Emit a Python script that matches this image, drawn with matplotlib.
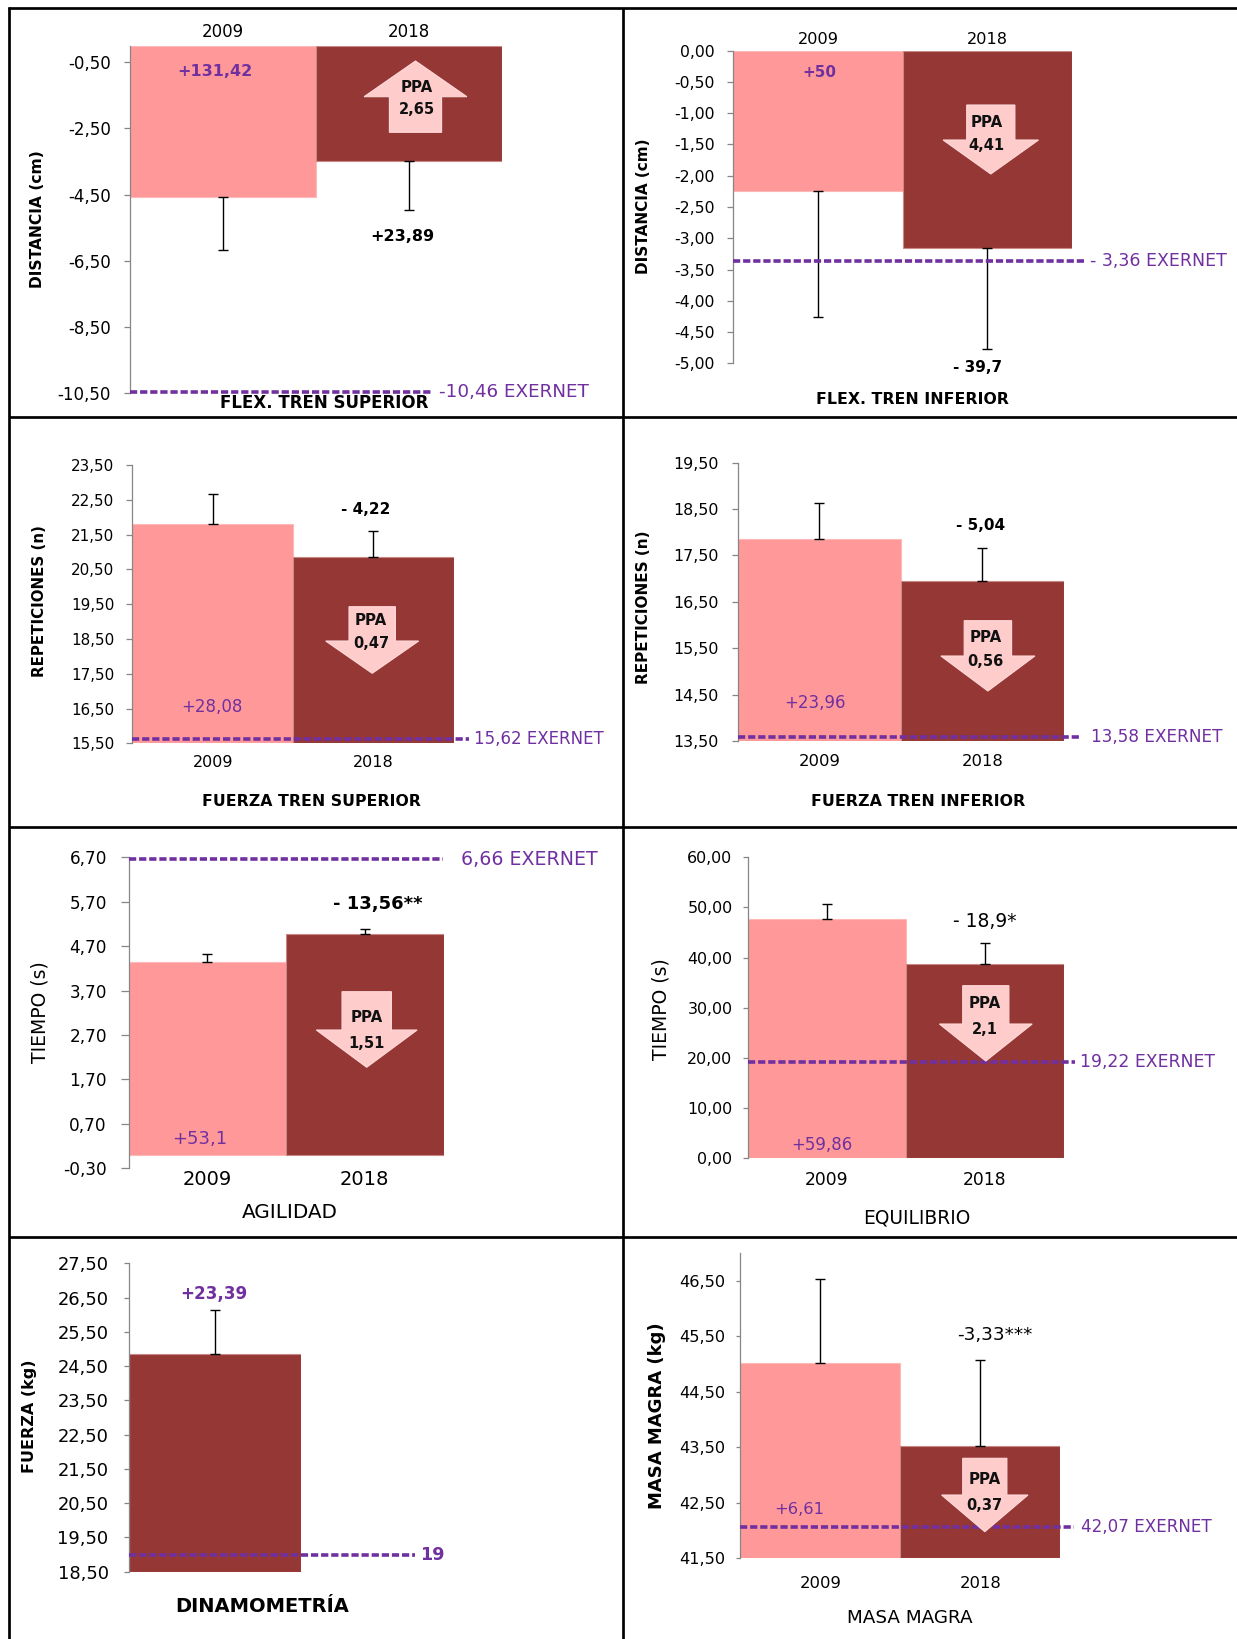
import numpy as np
import matplotlib
matplotlib.use("Agg")
import matplotlib.pyplot as plt
from matplotlib.patches import Polygon

W, H = 1237, 1639
plt.rcParams["font.family"] = ["DejaVu Sans"]

ROSA = "#FF9999"
GRANATE = "#953735"
FLECHA = "#FFCCCC"
MORADO = "#7030A0"

anios = ["2009", "2018"]

# flexibilidad tren superior (cm)
flex_sup_media = [-4.56, -3.49]
flex_sup_de = [1.60, 1.47]
flex_sup_exernet = -10.46
flex_sup_cambio = ["+131,42", "+23,89"]
flex_sup_ppa = "2,65"

# flexibilidad tren inferior (cm)
flex_inf_media = [-2.25, -3.15]
flex_inf_de = [2.01, 1.62]
flex_inf_exernet = -3.36
flex_inf_cambio = ["+50", "- 39,7"]
flex_inf_ppa = "4,41"

# fuerza tren superior (repeticiones)
fza_sup_media = [21.80, 20.86]
fza_sup_de = [0.86, 0.75]
fza_sup_exernet = 15.62
fza_sup_cambio = ["+28,08", "- 4,22"]
fza_sup_ppa = "0,47"

# fuerza tren inferior (repeticiones)
fza_inf_media = [17.85, 16.95]
fza_inf_de = [0.79, 0.72]
fza_inf_exernet = 13.58
fza_inf_cambio = ["+23,96", "- 5,04"]
fza_inf_ppa = "0,56"

# agilidad (s)
agil_media = [4.35, 4.97]
agil_de = [0.17, 0.11]
agil_exernet = 6.66
agil_cambio = ["+53,1", "- 13,56**"]
agil_ppa = "1,51"

# equilibrio (s)
equi_media = [47.70, 38.73]
equi_de = [2.93, 4.12]
equi_exernet = 19.22
equi_cambio = ["+59,86", "- 18,9*"]
equi_ppa = "2,1"

# dinamometria (kg), solo 2018
dina_media = [24.85]
dina_de = [1.29]
dina_exernet = 19
dina_cambio = ["+23,39"]

# masa magra (kg)
magra_media = [45.02, 43.52]
magra_de = [1.52, 1.55]
magra_exernet = 42.07
magra_cambio = ["+6,61", "-3,33***"]
magra_ppa = "0,37"


fig = plt.figure(figsize=(W / 100, H / 100), dpi=100)
fig.patch.set_facecolor("white")


def coma(v):
    return f"{round(v, 2) + 0.0:.2f}".replace(".", ",")


def px_axes(x0, x1, y_top, y_bot):
    return fig.add_axes([x0 / W, 1 - y_bot / H, (x1 - x0) / W, (y_bot - y_top) / H])


def panel(box, medias, de, ylim, paso, base, ref, ref_txt, ref_fin, ref_ini,
          tick_fs, tick_pad, tick_len=4.3, cats=True, cat_top=False, cat_pad=8,
          cat_fs=12, colores=(ROSA, GRANATE), ref_fs=12.5, ref_w="normal"):
    x0, x1, yt, yb = box
    ax = px_axes(x0, x1, yt, yb)
    n = len(medias)
    xs = np.arange(n) + 0.5
    alturas = [m - base for m in medias]
    bordes = ["#FFB8B8" if c == ROSA else "#C98886" for c in colores]
    ax.bar(xs, alturas, width=1.0, bottom=base, color=colores[:n],
           edgecolor=bordes[:n], linewidth=0.8, zorder=2)
    for x, m, e in zip(xs, medias, de):
        yerr = [[e], [0]] if m < base else [[0], [e]]
        ax.errorbar(x, m, yerr=yerr, fmt="none", ecolor="black", elinewidth=1.0,
                    capsize=3.3, capthick=1.0, zorder=3)
    ax.set_xlim(0, n)
    ax.set_ylim(*ylim)
    ticks = np.arange(ylim[0], ylim[1] + 1e-6, paso)
    ax.set_yticks(ticks, [coma(t) for t in ticks])
    for s in ["top", "right", "bottom"]:
        ax.spines[s].set_visible(False)
    ax.spines["left"].set_color("#868686")
    ax.spines["left"].set_linewidth(0.9)
    ax.tick_params(axis="y", direction="out", length=tick_len, width=0.9,
                   color="#868686", pad=tick_pad, labelsize=tick_fs,
                   labelcolor="black")
    if cats:
        if cat_top:
            ax.xaxis.tick_top()
        ax.set_xticks(xs, anios[:n])
        ax.tick_params(axis="x", length=0, pad=cat_pad, labelsize=cat_fs)
    else:
        ax.set_xticks([])

    # linea de referencia EXERNET
    tr = ax.get_yaxis_transform()
    f_fin = (ref_fin - x0) / (x1 - x0)
    f_ini = (ref_ini - x0) / (x1 - x0)
    ax.plot([0, f_fin], [ref, ref], transform=tr, color=MORADO, lw=2.6,
            dashes=(2.0, 0.8), dash_capstyle="butt", clip_on=False, zorder=4)
    ax.text(f_ini, ref, ref_txt, transform=tr, ha="left", va="center",
            color=MORADO, fontsize=ref_fs, weight=ref_w, clip_on=False)
    return ax


# paneles
panel((130.4, 502, 45.7, 393.3), flex_sup_media, flex_sup_de, (-10.5, 0), 2, 0,
      flex_sup_exernet, "-10,46 EXERNET", 432.9, 438.8, 12, 9.9,
      cat_top=True, cat_pad=3.2, cat_fs=12, ref_fs=13.2)
panel((733.3, 1072, 50.7, 363.3), flex_inf_media, flex_inf_de, (-5, 0), 0.5, 0,
      flex_inf_exernet, "- 3,36 EXERNET", 1083.9, 1089.8, 11.3, 9.1,
      cat_top=True, cat_pad=3, cat_fs=11.6, ref_fs=12.5)
panel((132.4, 453.8, 465, 743.3), fza_sup_media, fza_sup_de, (15.5, 23.5), 1, 15.5,
      fza_sup_exernet, "15,62 EXERNET", 468.5, 474.4, 10.9, 8.6,
      cat_pad=8.4, cat_fs=11.5, ref_fs=12)
panel((737.6, 1064.1, 462.7, 741), fza_inf_media, fza_inf_de, (13.5, 19.5), 1, 13.5,
      fza_inf_exernet, "13,58 EXERNET", 1080, 1090.6, 11.4, 9.1,
      cat_pad=9, cat_fs=11.8, ref_fs=12.2)
panel((128.5, 443.5, 857.3, 1168.3), agil_media, agil_de, (-0.3, 6.7), 1, 0,
      agil_exernet, "6,66 EXERNET", 442.7, 460.5, 12.2, 10, tick_len=5.5,
      cat_pad=1, cat_fs=14, ref_fs=13.7)
panel((747.5, 1064.1, 857.3, 1158.3), equi_media, equi_de, (0, 60), 10, 0,
      equi_exernet, "19,22 EXERNET", 1074.8, 1079.9, 11.4, 7.1, tick_len=3.7,
      cat_pad=9, cat_fs=12.3, ref_fs=12.4)
panel((128.5, 301.2, 1263.3, 1571.7), dina_media, dina_de, (18.5, 27.5), 1, 18.5,
      dina_exernet, "19", 415, 420.2, 12.9, 10.8, tick_len=3.5,
      cats=False, colores=(GRANATE,), ref_fs=12.7, ref_w="bold")
panel((740.4, 1060.2, 1253.3, 1558.3), magra_media, magra_de, (41.5, 47.0), 1, 41.5,
      magra_exernet, "42,07 EXERNET", 1074, 1080.7, 11.6, 7.9, tick_len=3,
      cat_pad=12.7, cat_fs=11.8, ref_fs=12.1)

# capa superior: marco, flechas PPA y rotulos
ov = fig.add_axes([0, 0, 1, 1])
ov.set_xlim(0, W)
ov.set_ylim(H, 0)
ov.axis("off")
ov.patch.set_alpha(0)

marco = dict(color="black", lw=1.95, solid_capstyle="butt")
ov.plot([8.5, 8.5], [6.5, H], **marco)
ov.plot([7.5, W], [7.5, 7.5], **marco)
ov.plot([622.5, 622.5], [7.5, H], **marco)
for yy in [417.3, 827.2, 1237]:
    ov.plot([8.5, W], [yy, yy], **marco)


def flecha(cx, cola, base, punta, sw, hw, ppa, y_ppa, y_val, dx=0):
    pts = [(cx - sw, cola), (cx + sw, cola), (cx + sw, base), (cx + hw, base),
           (cx, punta), (cx - hw, base), (cx - sw, base)]
    ov.add_patch(Polygon(pts, closed=True, facecolor=FLECHA, edgecolor="#FFDADA",
                         lw=0.8, zorder=5))
    ov.text(cx + dx, y_ppa, "PPA", ha="center", va="center", fontsize=10.8,
            weight="bold", color="#111111", zorder=6)
    ov.text(cx + dx, y_val, ppa, ha="center", va="center", fontsize=10.5,
            weight="bold", color="#111111", zorder=6)


flecha(415.5, 132.3, 96.7, 61, 26.1, 51.4, flex_sup_ppa, 87.3, 110, dx=1.5)
flecha(990.8, 105, 140, 174, 24.1, 47.7, flex_inf_ppa, 122.7, 145.7, dx=-4)
flecha(372.2, 606.7, 641, 673.3, 23.2, 46.5, fza_sup_ppa, 620.7, 644, dx=-1)
flecha(987.9, 620.7, 656, 691, 23.7, 47, fza_inf_ppa, 637.3, 661, dx=-2.5)
flecha(366.7, 991.7, 1030, 1067.3, 24.7, 50.4, agil_ppa, 1017.3, 1043.3)
flecha(985.8, 985.7, 1024, 1061, 23.1, 46.4, equi_ppa, 1004, 1029, dx=-1)
flecha(984.8, 1458.3, 1495, 1531.7, 22.1, 43.2, magra_ppa, 1480, 1505)


def rotulo(x, y, s, size, color="black", weight="normal", rot=0):
    ov.text(x, y, s, ha="center", va="center", fontsize=size, color=color,
            weight=weight, rotation=rot, zorder=6)


# porcentajes de cambio
rotulo(214.7, 71, flex_sup_cambio[0], 11.5, MORADO, "bold")
rotulo(402, 236.7, flex_sup_cambio[1], 11.5, weight="bold")
rotulo(819.3, 72.7, flex_inf_cambio[0], 11, MORADO, "bold")
rotulo(977.3, 368, flex_inf_cambio[1], 11, weight="bold")
rotulo(211.5, 707.3, fza_sup_cambio[0], 12, MORADO)
rotulo(365.7, 510, fza_sup_cambio[1], 11, weight="bold")
rotulo(815.4, 703.3, fza_inf_cambio[0], 12, MORADO)
rotulo(980.4, 526, fza_inf_cambio[1], 11, weight="bold")
rotulo(199.6, 1139, agil_cambio[0], 13, MORADO)
rotulo(377.5, 904, agil_cambio[1], 13, weight="bold")
rotulo(822.1, 1145, equi_cambio[0], 12, MORADO)
rotulo(985.2, 921.7, equi_cambio[1], 13.5)
rotulo(213.5, 1294.3, dina_cambio[0], 12.1, MORADO, "bold")
rotulo(799.6, 1510, magra_cambio[0], 11.8, MORADO)
rotulo(995, 1335, magra_cambio[1], 13.2)

# titulos de los ejes
rotulo(324, 403, "FLEX. TREN SUPERIOR", 12, weight="bold")
rotulo(912, 399, "FLEX. TREN INFERIOR", 11.3, weight="bold")
rotulo(311.7, 801.7, "FUERZA TREN SUPERIOR", 11.3, weight="bold")
rotulo(918, 801.7, "FUERZA TREN INFERIOR", 11.4, weight="bold")
rotulo(289.6, 1212.7, "AGILIDAD", 14.4)
rotulo(917, 1218.3, "EQUILIBRIO", 13.4)
rotulo(262.5, 1606.7, "DINAMOMETRÍA", 14, weight="bold")
rotulo(910.2, 1618.3, "MASA MAGRA", 13.2)

rotulo(37.6, 219, "DISTANCIA (cm)", 11.2, weight="bold", rot=90)
rotulo(643.7, 206, "DISTANCIA (cm)", 11, weight="bold", rot=90)
rotulo(39.5, 600.7, "REPETICIONES (n)", 10.8, weight="bold", rot=90)
rotulo(643.7, 607.5, "REPETICIONES (n)", 11, weight="bold", rot=90)
rotulo(39.5, 1012.5, "TIEMPO (s)", 13.5, rot=90)
rotulo(661.4, 1009, "TIEMPO (s)", 13.5, rot=90)
rotulo(29.6, 1415.8, "FUERZA (kg)", 11.5, weight="bold", rot=90)
rotulo(657.5, 1415.8, "MASA MAGRA (kg)", 13, weight="bold", rot=90)

fig.savefig("out.png", dpi=100, facecolor="white")
